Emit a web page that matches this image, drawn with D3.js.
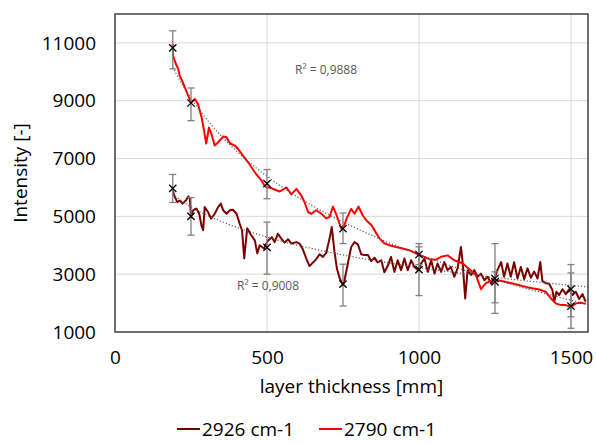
<!DOCTYPE html>
<html>
<head>
<meta charset="utf-8">
<script src="https://cdn.jsdelivr.net/npm/d3@7"></script>
<style>
  body { margin: 0; background: #fff; }
  text { font-family: "Open Sans", sans-serif; }
</style>
</head>
<body>
<div id="container"></div>
<script>
/* CONSTANTS AND GLOBALS */
const width = 596,
  height = 444,
  margin = { top: 14, right: 8, bottom: 112, left: 115 };

// line series, 2926 cm-1 (dark red)
const darkX = [189,197,205,213,222,233,241,246,250,257,
  268,277,285,290,295,306,316,328,339,348,
  356,367,378,388,400,410,418,425,435,446,
  460,468,476,490,503,516,525,536,547,558,
  569,580,597,607,618,629,640,651,662,673,
  684,695,706,713,722,730,739,750,755,766,
  777,788,799,810,821,832,843,854,864,876,
  886,897,908,919,930,941,952,963,974,985,
  996,1007,1018,1029,1040,1051,1061,1073,1083,1094,
  1105,1116,1127,1138,1143,1152,1160,1171,1182,1193,
  1204,1215,1226,1237,1248,1258,1270,1280,1291,1302,
  1313,1324,1335,1346,1357,1368,1379,1390,1399,1406,
  1417,1428,1439,1445,1452,1461,1472,1483,1494,1505,
  1516,1527,1538,1548];
const darkY = [5920,5670,5490,5550,5440,5550,5690,5620,4980,5210,
  5270,5090,4660,4520,5320,5150,4920,5090,5320,5440,
  5210,5090,5210,5230,5090,4750,4520,3550,4590,4380,
  4170,3720,4000,3890,4160,4280,4110,4400,4230,4090,
  4210,4060,4110,4060,3860,3550,3280,3400,3520,3690,
  3600,3740,4240,4630,3780,3200,2860,2620,2790,3370,
  3940,4110,4030,3690,3660,3660,3450,3570,3410,3480,
  3070,3280,3600,3080,3480,3140,3540,3140,3480,3250,
  3140,3370,3540,3080,3480,3020,3370,3080,3420,3140,
  3250,2910,3200,3940,3480,2160,3140,2970,3140,2910,
  3020,2790,2910,2680,2850,3140,3420,2910,3370,2910,
  3410,2850,3250,2830,3200,2880,3090,2850,3420,2760,
  2690,2670,2450,2050,2390,2280,2480,2310,2480,2280,
  2390,2140,2310,2050];

// line series, 2790 cm-1 (red)
const redX = [190,191,200,208,213,221,230,241,250,263,
  273,285,293,300,309,317,328,339,356,367,
  378,394,405,421,438,449,465,482,490,498,
  509,525,542,564,580,597,613,624,635,646,
  662,679,695,706,717,728,744,755,762,777,
  788,801,815,827,844,860,870,886,903,925,
  946,968,996,1018,1034,1056,1073,1094,1116,1143,
  1166,1187,1204,1220,1242,1264,1286,1308,1330,1352,
  1373,1395,1417,1434,1450,1467,1483,1500,1516,1532,
  1549];
const redY = [10960,10550,10280,10100,9860,9690,9450,9170,8940,9060,
  8890,8420,7960,7520,8070,7860,7450,7560,7760,7740,
  7530,7450,7330,7100,6870,6700,6450,6240,6100,6000,
  6000,5930,5860,6000,5760,5950,5720,5480,5150,5090,
  5210,5090,4930,4980,5340,5070,4580,4720,4930,5260,
  5090,5340,5030,4860,4690,4410,4240,4070,4000,3940,
  3890,3830,3690,3600,3520,3500,3600,3650,3480,3380,
  3170,2970,2480,2690,2790,2780,2730,2680,2620,2560,
  2510,2470,2390,2160,1990,1930,1930,1870,1990,2010,
  1980];

// measured points with error bars
const markX = [190, 250, 500, 750, 1000, 1250, 1500];
const darkMark = [5966, 5000, 3930, 2655, 3160, 2852, 2483];
const darkLow = [5480, 4350, 3000, 1900, 2260, 1645, 1128];
const darkHigh = [6450, 5650, 4800, 3345, 4060, 4058, 3334];
const redMark = [10830, 8920, 6130, 4576, 3680, 2734, 1897];
const redLow = [10100, 8310, 5610, 4058, 3330, 2010, 1528];
const redHigh = [11420, 9440, 6620, 5114, 3945, 3080, 3045];

const xTicks = [0, 500, 1000, 1500];
const yTicks = [1000, 3000, 5000, 7000, 9000, 11000];
const seriesNames = ["2926 cm-1", "2790 cm-1"];
const seriesColors = ["#7b0000", "#ff0000"];
const r2Labels = ["R² = 0,9008", "R² = 0,9888"];

let svg, xScale, yScale;

/* INITIALIZING FUNCTION */
function init() {
  xScale = d3.scaleLinear()
    .domain([0, 1556])
    .range([margin.left, width - margin.right]);

  yScale = d3.scaleLinear()
    .domain([1000, 12000])
    .range([height - margin.bottom, margin.top]);

  svg = d3.select("#container")
    .append("svg")
    .attr("width", width)
    .attr("height", height);

  // gridlines
  svg.append("g")
    .selectAll("line")
    .data(yTicks.slice(1))
    .join("line")
    .attr("x1", xScale.range()[0])
    .attr("x2", xScale.range()[1])
    .attr("y1", d => yScale(d))
    .attr("y2", d => yScale(d))
    .attr("stroke", "#d9d9d9");

  svg.append("g")
    .selectAll("line")
    .data(xTicks.slice(1))
    .join("line")
    .attr("y1", yScale.range()[0])
    .attr("y2", yScale.range()[1])
    .attr("x1", d => xScale(d))
    .attr("x2", d => xScale(d))
    .attr("stroke", "#d9d9d9");

  // axes, labels only
  const xAxis = d3.axisBottom(xScale).tickValues(xTicks).tickFormat(d3.format("d"))
    .tickSize(0).tickPadding(19);
  const yAxis = d3.axisLeft(yScale).tickValues(yTicks).tickFormat(d3.format("d"))
    .tickSize(0).tickPadding(19);

  svg.append("g")
    .attr("transform", `translate(0, ${height - margin.bottom})`)
    .call(xAxis)
    .call(g => g.select(".domain").remove())
    .selectAll("text")
    .style("font-size", "19px")
    .style("font-family", "Open Sans")
    .attr("fill", "#000");

  svg.append("g")
    .attr("transform", `translate(${margin.left}, 0)`)
    .call(yAxis)
    .call(g => g.select(".domain").remove())
    .selectAll("text")
    .style("font-size", "19px")
    .style("font-family", "Open Sans")
    .attr("fill", "#000");

  svg.append("text")
    .attr("x", (xScale.range()[0] + xScale.range()[1]) / 2)
    .attr("y", 393)
    .attr("text-anchor", "middle")
    .style("font-size", "19px")
    .text("layer thickness [mm]");

  svg.append("text")
    .attr("transform", `translate(27, ${(yScale.range()[0] + yScale.range()[1]) / 2}) rotate(-90)`)
    .attr("text-anchor", "middle")
    .style("font-size", "19px")
    .text("Intensity [-]");

  draw();
}

// logarithmic trendline y = a + b ln(x), least squares
function logFit(xs, ys) {
  const lx = xs.map(Math.log);
  const mx = d3.mean(lx), my = d3.mean(ys);
  let sxy = 0, sxx = 0;
  lx.forEach((v, i) => { sxy += (v - mx) * (ys[i] - my); sxx += (v - mx) ** 2; });
  const b = sxy / sxx;
  return x => my + b * (Math.log(x) - mx);
}

/* DRAW FUNCTION */
function draw() {
  const plot = svg.append("g");

  const series = [
    { x: darkX, y: darkY, mark: darkMark, low: darkLow, high: darkHigh },
    { x: redX, y: redY, mark: redMark, low: redLow, high: redHigh }
  ];

  const line = d3.line()
    .x(d => xScale(d[0]))
    .y(d => yScale(d[1]));

  series.forEach((s, k) => {
    plot.append("path")
      .datum(s.x.map((v, i) => [v, s.y[i]]))
      .attr("fill", "none")
      .attr("stroke", seriesColors[k])
      .attr("stroke-width", 2)
      .attr("stroke-linejoin", "round")
      .attr("d", line);
  });

  // trendlines
  series.forEach(s => {
    const f = logFit(s.x, s.y);
    const xs = d3.range(s.x[0], 1556, 5).concat([1556]);
    plot.append("path")
      .datum(xs.map(v => [v, f(v)]))
      .attr("fill", "none")
      .attr("stroke", "#595959")
      .attr("stroke-width", 1.2)
      .attr("stroke-dasharray", "1.2,2")
      .attr("d", line);
  });

  // error bars and markers
  series.forEach(s => {
    const eb = plot.append("g").attr("stroke", "#808080").attr("stroke-width", 1.3);
    markX.forEach((v, i) => {
      const px = xScale(v);
      eb.append("line").attr("x1", px).attr("x2", px)
        .attr("y1", yScale(s.low[i])).attr("y2", yScale(s.high[i]));
      [s.low[i], s.high[i]].forEach(e => {
        eb.append("line").attr("x1", px - 3.5).attr("x2", px + 3.5)
          .attr("y1", yScale(e)).attr("y2", yScale(e));
      });
    });
  });

  series.forEach(s => {
    plot.append("g")
      .selectAll("path")
      .data(markX.map((v, i) => [v, s.mark[i]]))
      .join("path")
      .attr("d", d3.symbol(d3.symbolX, 36))
      .attr("transform", d => `translate(${xScale(d[0])}, ${yScale(d[1])})`)
      .attr("stroke", "#000")
      .attr("stroke-width", 1.3)
      .attr("fill", "none");
  });

  // R² labels
  svg.append("text").attr("x", 237).attr("y", 290)
    .style("font-size", "12px").attr("fill", "#595959").text(r2Labels[0]);
  svg.append("text").attr("x", 295).attr("y", 74)
    .style("font-size", "12px").attr("fill", "#595959").text(r2Labels[1]);

  // plot frame
  svg.append("rect")
    .attr("x", xScale.range()[0])
    .attr("y", yScale.range()[1])
    .attr("width", xScale.range()[1] - xScale.range()[0])
    .attr("height", yScale.range()[0] - yScale.range()[1])
    .attr("fill", "none")
    .attr("stroke", "#404040")
    .attr("stroke-width", 1.5);

  // legend
  const legendX = [177, 319];
  const legend = svg.append("g")
    .selectAll("g")
    .data(seriesNames)
    .join("g")
    .attr("transform", (d, i) => `translate(${legendX[i]}, 429)`);

  legend.append("line")
    .attr("x1", 0).attr("x2", 23)
    .attr("stroke", (d, i) => seriesColors[i])
    .attr("stroke-width", 2);

  legend.append("text")
    .attr("x", 25)
    .attr("y", 7)
    .style("font-size", "19px")
    .text(d => d);
}

init();
</script>
</body>
</html>
